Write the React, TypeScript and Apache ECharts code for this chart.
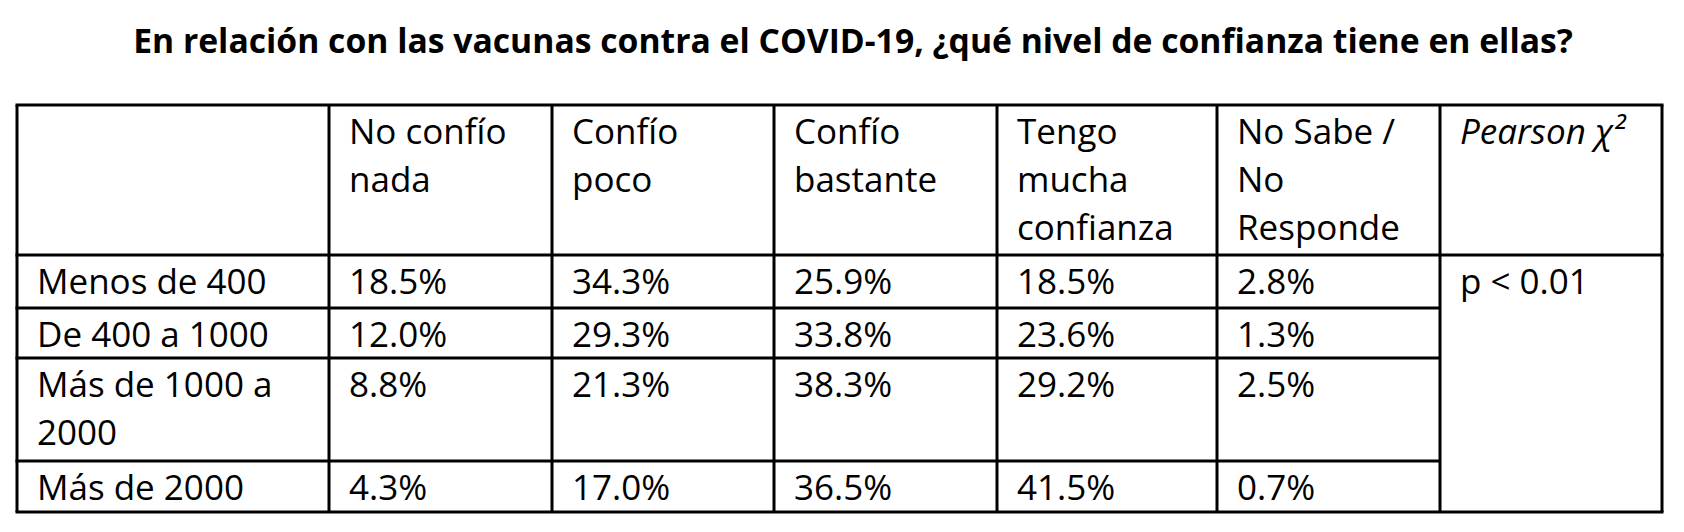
import React, { useEffect, useRef } from "react";
import * as echarts from "echarts";

// ---- data ----
const title = "En relación con las vacunas contra el COVID-19, ¿qué nivel de confianza tiene en ellas?";
const levels = ["No confío\nnada", "Confío\npoco", "Confío\nbastante", "Tengo\nmucha\nconfianza", "No Sabe /\nNo\nResponde"];
const statHeader = "Pearson χ²";
const categories = ["Menos de 400", "De 400 a 1000", "Más de 1000 a\n2000", "Más de 2000"];
const noConfioNada = [18.5, 12.0, 8.8, 4.3];
const confioPoco = [34.3, 29.3, 21.3, 17.0];
const confioBastante = [25.9, 33.8, 38.3, 36.5];
const muchaConfianza = [18.5, 23.6, 29.2, 41.5];
const noSabe = [2.8, 1.3, 2.5, 0.7];
const pearson = "p < 0.01";

// ---- layout ----
const colEdges = [17, 329, 552, 774, 997, 1217, 1440, 1662];
const rowEdges = [105, 255, 308, 358, 461, 512];
const FONT = "'Open Sans', sans-serif";
const FS = 35;
const LH = 48;
const PAD_X = 20;
const PAD_Y = 1;
const LW = 3;

function buildGraphics() {
  const series = [noConfioNada, confioPoco, confioBastante, muchaConfianza, noSabe];
  const els: any[] = [];
  const txt = (x: number, y: number, text: string, italic = false) => ({
    type: "text",
    x,
    y,
    style: {
      text,
      font: `${italic ? "italic " : ""}normal ${FS}px ${FONT}`,
      fill: "#000",
      lineHeight: LH,
      textAlign: "left",
      textVerticalAlign: "top",
    },
  });
  els.push({
    type: "text",
    x: 853,
    y: 40,
    style: {
      text: title,
      font: `bold 33.7px ${FONT}`,
      fill: "#000",
      textAlign: "center",
      textVerticalAlign: "middle",
    },
  });
  // header
  const top = rowEdges[0];
  levels.forEach((lv, i) => els.push(txt(colEdges[i + 1] + PAD_X, top + PAD_Y, lv)));
  els.push(txt(colEdges[6] + PAD_X, top + PAD_Y, statHeader, true));
  // body
  categories.forEach((cat, r) => {
    const y = rowEdges[r + 1] + PAD_Y;
    els.push(txt(colEdges[0] + PAD_X, y, cat));
    series.forEach((s, c) => els.push(txt(colEdges[c + 1] + PAD_X, y, s[r].toFixed(1) + "%")));
  });
  els.push(txt(colEdges[6] + PAD_X, rowEdges[1] + PAD_Y, pearson));
  // grid lines
  const left = colEdges[0];
  const right = colEdges[colEdges.length - 1];
  const bottom = rowEdges[rowEdges.length - 1];
  const line = (x1: number, y1: number, x2: number, y2: number) => ({
    type: "line",
    shape: { x1, y1, x2, y2 },
    style: { stroke: "#000", lineWidth: LW },
  });
  rowEdges.forEach((y, i) => {
    const full = i === 0 || i === 1 || i === rowEdges.length - 1;
    els.push(line(left - LW / 2, y, full ? right + LW / 2 : colEdges[6], y));
  });
  colEdges.forEach((x) => els.push(line(x, top, x, bottom)));
  return els;
}

export default function App() {
  const ref = useRef<HTMLDivElement>(null);
  useEffect(() => {
    if (!ref.current) return;
    const chart = echarts.init(ref.current, null, { renderer: "svg" });
    chart.setOption({
      animation: false,
      backgroundColor: "#fff",
      graphic: { elements: buildGraphics() },
    });
    return () => chart.dispose();
  }, []);
  return (
    <div
      ref={ref}
      style={{ position: "fixed", left: 0, top: 0, width: 1684, height: 532, background: "#fff" }}
    />
  );
}
